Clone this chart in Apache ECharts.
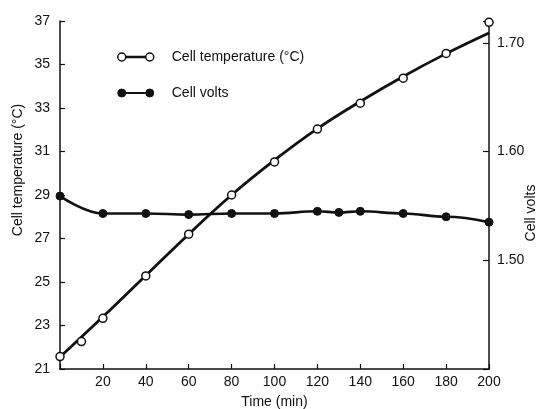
<!DOCTYPE html>
<html>
<head>
<meta charset="utf-8">
<script src="https://cdn.jsdelivr.net/npm/echarts@6/dist/echarts.min.js"></script>
<style>
html, body {margin: 0; padding: 0; background: #fff;}
#chart {width: 545px; height: 409px;}
</style>
</head>
<body>
<div id="chart"></div>
<script>
// time (min) of the measured temperature points
var tempTime = [0, 10, 20, 40, 60, 80, 100, 120, 140, 160, 180, 200];
var tempPoints = [21.57, 22.26, 23.33, 25.28, 27.2, 29.0, 30.52, 32.03, 33.22, 34.37, 35.51, 36.94];
// smooth fitted temperature curve
var fitTime = [0, 20, 40, 60, 80, 100, 120, 140, 160, 180, 200];
var tempCurve = [21.55, 23.4, 25.3, 27.2, 29.0, 30.6, 32.05, 33.3, 34.45, 35.5, 36.45];
// cell volts
var voltTime = [0, 20, 40, 60, 80, 100, 120, 130, 140, 160, 180, 200];
var volts = [1.559, 1.543, 1.543, 1.542, 1.543, 1.543, 1.545, 1.544, 1.545, 1.543, 1.540, 1.535];

var tempName = 'Cell temperature (°C)';
var voltName = 'Cell volts';

function pairs(xs, ys) {
	return xs.map(function (x, i) { return [x, ys[i]]; });
}

var font = 'Liberation Sans, Arial, sans-serif';
var black = '#111';

// o----o legend glyph
var iconPath = 'path://M0,4 a4,4 0 1,0 8,0 a4,4 0 1,0 -8,0 Z M8,3.5 L28,3.5 L28,4.5 L8,4.5 Z M28,4 a4,4 0 1,0 8,0 a4,4 0 1,0 -8,0 Z';

var axisCommon = {
	axisLine: {show: true, lineStyle: {color: black, width: 1.5}},
	axisTick: {show: true, inside: true, length: 5, lineStyle: {color: black, width: 1.2}},
	splitLine: {show: false},
	axisLabel: {color: black, fontSize: 14, fontFamily: font},
	nameMoveOverlap: false,
	nameTextStyle: {color: black, fontSize: 14, fontFamily: font}
};

var chart = echarts.init(document.getElementById('chart'));

chart.setOption({
	animation: false,
	backgroundColor: '#fff',
	grid: {left: 60, right: 56, top: 21, bottom: 40, containLabel: false, outerBoundsMode: 'none'},
	legend: {
		orient: 'vertical',
		left: 112,
		top: 45,
		itemWidth: 36,
		itemHeight: 8,
		itemGap: 22,
		textStyle: {color: black, fontSize: 14, fontFamily: font, padding: [0, 0, 0, 13]},
		data: [
			{name: tempName, icon: iconPath, itemStyle: {color: '#fff', borderColor: black, borderWidth: 1.5}},
			{name: voltName, icon: iconPath, itemStyle: {color: black, borderColor: black, borderWidth: 1}}
		]
	},
	xAxis: $merge(axisCommon, {
		type: 'value',
		min: 0,
		max: 200,
		interval: 20,
		name: 'Time (min)',
		nameLocation: 'middle',
		nameGap: 26,
		axisLabel: {margin: 6, formatter: function (v) { return v === 0 ? '' : String(v); }}
	}),
	yAxis: [
		$merge(axisCommon, {
			type: 'value',
			position: 'left',
			min: 21,
			max: 37,
			interval: 2,
			name: tempName,
			nameLocation: 'middle',
			nameRotate: 90,
			nameGap: 35,
			nameTextStyle: {padding: [0, 0, 0, 50]},
			axisLabel: {margin: 10}
		}),
		$merge(axisCommon, {
			type: 'value',
			position: 'right',
			min: 1.40,
			max: 1.72,
			interval: 0.1,
			name: voltName,
			nameLocation: 'middle',
			nameRotate: 90,
			nameGap: 35,
			nameTextStyle: {padding: [0, 36, 0, 0]},
			axisTick: {length: 6},
			axisLabel: {margin: 8, formatter: function (v) {
				if (v < 1.45 || v > 1.71) return '';
				return v.toFixed(2);
			}}
		})
	],
	series: [
		{
			name: tempName,
			type: 'line',
			smooth: 0.4,
			showSymbol: false,
			symbol: 'none',
			lineStyle: {color: black, width: 2.8},
			itemStyle: {color: black},
			data: pairs(fitTime, tempCurve),
			z: 2
		},
		{
			name: tempName,
			type: 'scatter',
			symbol: 'circle',
			symbolSize: 8,
			itemStyle: {color: '#fff', borderColor: black, borderWidth: 1.5, opacity: 1},
			data: pairs(tempTime, tempPoints),
			z: 4
		},
		{
			name: voltName,
			type: 'line',
			yAxisIndex: 1,
			smooth: 0.4,
			smoothMonotone: 'x',
			symbol: 'circle',
			symbolSize: 8,
			showAllSymbol: true,
			lineStyle: {color: black, width: 2.6},
			itemStyle: {color: black, borderColor: black},
			data: pairs(voltTime, volts),
			z: 3
		}
	]
});

function $merge(a, b) {
	var out = {};
	Object.keys(a).forEach(function (k) { out[k] = a[k]; });
	Object.keys(b).forEach(function (k) {
		if (out[k] && typeof out[k] === 'object' && typeof b[k] === 'object' && !Array.isArray(b[k])) {
			out[k] = $merge(out[k], b[k]);
		} else {
			out[k] = b[k];
		}
	});
	return out;
}
</script>
</body>
</html>
